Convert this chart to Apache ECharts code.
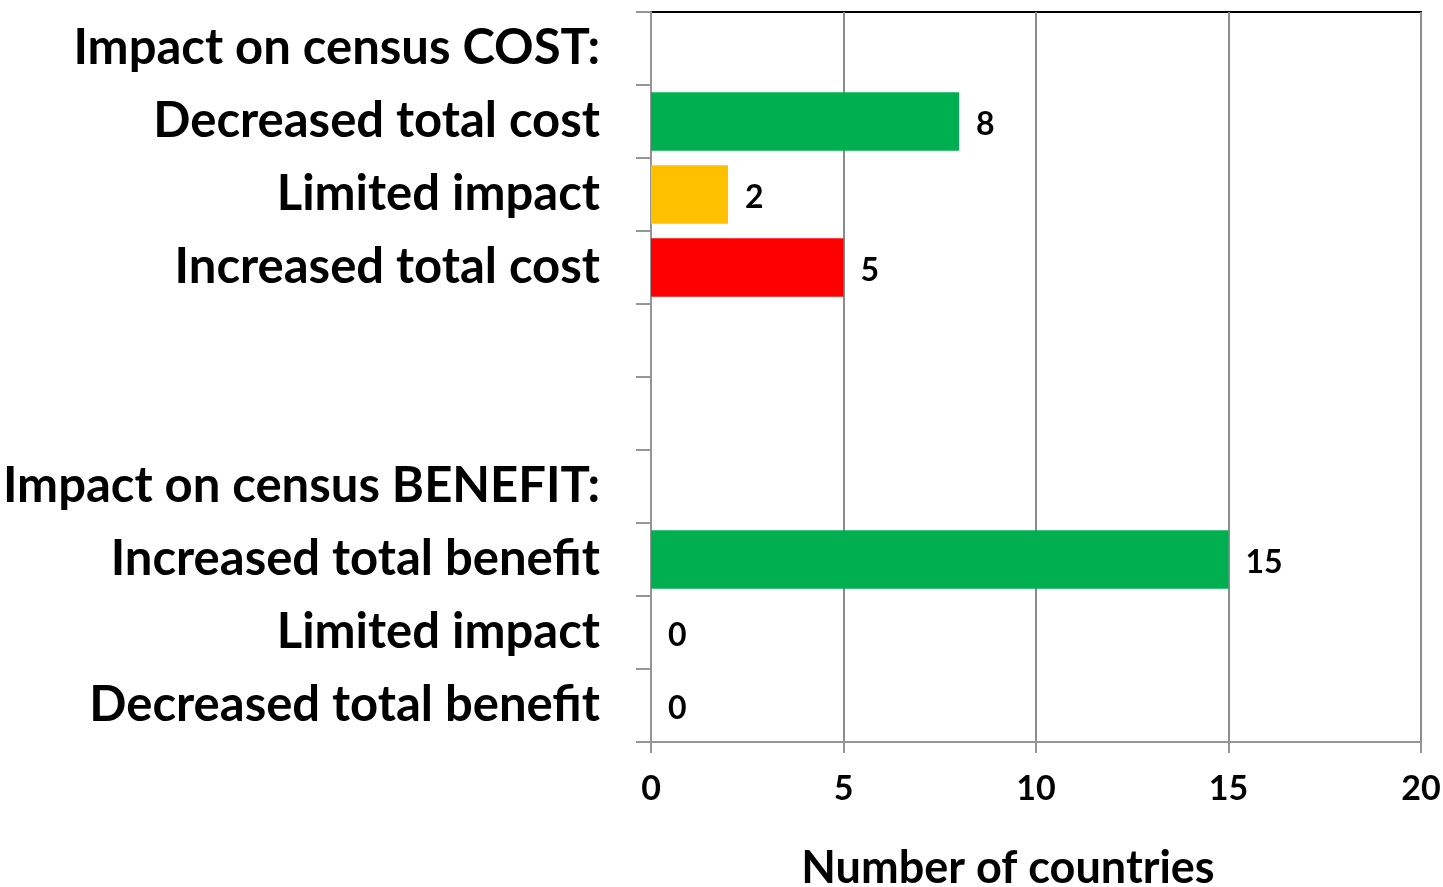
<!DOCTYPE html>
<html>
<head>
<meta charset="utf-8">
<script src="https://cdn.jsdelivr.net/npm/echarts@6/dist/echarts.min.js"></script>
<style>
  html, body { margin: 0; padding: 0; background: #fff; }
  #chart { width: 1443px; height: 887px; }
</style>
</head>
<body>
<div id="chart"></div>
<script>
// categories top to bottom (blank rows are spacers)
var categories = [
  'Impact on census COST:',
  'Decreased total cost',
  'Limited impact',
  'Increased total cost',
  '',
  ' ',
  'Impact on census BENEFIT:',
  'Increased total benefit',
  'Limited impact',
  'Decreased total benefit'
]
var counts = [null, 8, 2, 5, null, null, null, 15, 0, 0]
var barColors = ['#00B050', '#00B050', '#FFC000', '#FF0000', '#00B050', '#00B050', '#00B050', '#00B050', '#FFC000', '#FF0000']
var xTicks = [0, 5, 10, 15, 20]

var font = 'Lato'
var chart = echarts.init(document.getElementById('chart'))

var option = {
  animation: false,
  grid: {
    left: 651,
    right: 22,
    top: 12,
    bottom: 145,
    outerBoundsMode: 'none',
    containLabel: false,
    show: true,
    borderColor: '#000',
    borderWidth: 2
  },
  xAxis: {
    type: 'value',
    min: xTicks[0],
    max: xTicks[xTicks.length - 1],
    interval: 5,
    name: 'Number of countries',
    nameLocation: 'middle',
    nameGap: 104,
    nameTextStyle: { fontFamily: font, fontWeight: 'bold', fontSize: 45, color: '#000', padding: [0, 56, 0, 0] },
    axisLine: { show: true, lineStyle: { color: '#969696', width: 2 } },
    axisTick: { show: true, length: 11, lineStyle: { color: '#969696', width: 2 } },
    axisLabel: { margin: 30, fontFamily: font, fontWeight: 'bold', fontSize: 34, color: '#000' },
    splitLine: { show: true, lineStyle: { color: '#8c8c8c', width: 2 } }
  },
  yAxis: {
    type: 'category',
    inverse: true,
    data: categories,
    axisLine: { show: true, lineStyle: { color: '#969696', width: 2 } },
    axisTick: { show: true, length: 15, lineStyle: { color: '#969696', width: 2 } },
    axisLabel: { margin: 51, fontFamily: font, fontWeight: 'bold', fontSize: 49, color: '#000', interval: 0 },
    splitLine: { show: false }
  },
  series: [
    {
      type: 'bar',
      barCategoryGap: '20%',
      data: counts.map(function (v, i) {
        return { value: v, itemStyle: { color: barColors[i] } }
      }),
      label: {
        show: true,
        position: 'right',
        distance: 17,
        offset: [0, 3],
        fontFamily: font,
        fontWeight: 'bold',
        fontSize: 32,
        color: '#000'
      }
    }
  ]
}

chart.setOption(option)
</script>
</body>
</html>
